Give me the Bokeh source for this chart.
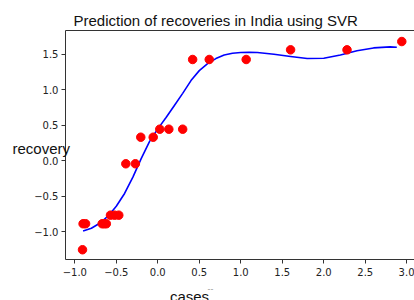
from bokeh.plotting import figure
from bokeh.models import Range1d, FixedTicker, LinearAxis, Label
from bokeh.embed import file_html
from bokeh.resources import INLINE

# observed data (cases vs recovery, scaled)
cases = [-0.907, -0.90, -0.87, -0.67, -0.645, -0.62, -0.57, -0.52, -0.47, -0.385, -0.27,
         -0.205, -0.055, 0.024, 0.133, 0.30, 0.42, 0.62, 1.065, 1.60, 2.28, 2.94]
recovery = [-1.253, -0.887, -0.887, -0.887, -0.887, -0.887, -0.766, -0.766, -0.766, -0.042, -0.042,
            0.332, 0.332, 0.445, 0.445, 0.445, 1.427, 1.427, 1.427, 1.563, 1.563, 1.68]

# SVR prediction curve
svr_x = [-0.9, -0.8, -0.7, -0.6, -0.5, -0.4, -0.3, -0.2, -0.1, 0.0, 0.1, 0.2, 0.3, 0.4, 0.5,
         0.6, 0.7, 0.8, 0.9, 1.0, 1.1, 1.2, 1.4, 1.6, 1.8, 2.0, 2.2, 2.4, 2.6, 2.8, 2.88]
svr_y = [-0.99, -0.95, -0.88, -0.78, -0.64, -0.46, -0.23, 0.03, 0.27, 0.45, 0.61, 0.78, 0.95,
         1.13, 1.27, 1.37, 1.44, 1.49, 1.515, 1.525, 1.53, 1.525, 1.50, 1.47, 1.44, 1.445, 1.49,
         1.55, 1.59, 1.605, 1.60]

x_ticks = [-1.0, -0.5, 0.0, 0.5, 1.0, 1.5, 2.0, 2.5, 3.0]
y_ticks = [-1.0, -0.5, 0.0, 0.5, 1.0, 1.5]

title_text = "Prediction of recoveries in India using SVR"
x_label = "cases"
y_label = "recovery"

# axes box (data limits of the plotting area)
x_lo, x_hi = -1.112, 3.093
y_lo, y_hi = -1.39, 1.835


def lab(v):
    s = "%.1f" % v
    return s.replace("-", "\u2212")


p = figure(width=414, height=300, output_backend="svg", toolbar_location=None,
           x_range=Range1d(-1.895, 3.093), y_range=Range1d(-1.968, 2.258),
           min_border=0, x_axis_location=None, y_axis_location=None)
p.outline_line_color = None
p.xgrid.visible = False
p.ygrid.visible = False
p.background_fill_color = "white"
p.border_fill_color = "white"

xa = LinearAxis(ticker=FixedTicker(ticks=x_ticks), fixed_location=y_lo, bounds=(x_lo, x_hi),
                major_label_overrides={v: lab(v) for v in x_ticks})
ya = LinearAxis(ticker=FixedTicker(ticks=y_ticks), fixed_location=x_lo, bounds=(y_lo, y_hi),
                major_label_overrides={v: lab(v) for v in y_ticks})
top = LinearAxis(ticker=FixedTicker(ticks=[]), fixed_location=y_hi, bounds=(x_lo, x_hi),
                 major_label_text_font_size="0px")
for ax in (xa, ya):
    ax.major_tick_out = 4
    ax.major_tick_in = 0
    ax.minor_tick_out = 0
    ax.minor_tick_in = 0
    ax.major_label_text_font = "DejaVu Sans"
    ax.major_label_text_font_size = "10px"
    ax.major_label_text_color = "#222222"
    ax.axis_line_color = "#333333"
    ax.major_tick_line_color = "#333333"
xa.major_label_standoff = 5
ya.major_label_standoff = 3
top.axis_line_color = "#333333"
top.major_tick_out = 0
top.major_tick_in = 0
top.minor_tick_out = 0
top.minor_tick_in = 0
p.add_layout(xa, "below")
p.add_layout(ya, "left")
p.add_layout(top, "above")

p.line(svr_x, svr_y, line_color="#0000ff", line_width=1.6)
p.scatter(cases, recovery, size=8.5, fill_color="#ff0000", line_color="#ff0000")

p.add_layout(Label(x=73, x_units="screen", y=1.983, y_units="data", text=title_text,
                   text_font="Liberation Sans", text_font_size="15px", text_align="left",
                   text_baseline="alphabetic", text_color="#111111"))
p.add_layout(Label(x=12, x_units="screen", y=0.173, y_units="data", text=y_label,
                   text_font="Liberation Sans", text_font_size="15px", text_align="left",
                   text_baseline="alphabetic", text_color="#111111"))
p.add_layout(Label(x=189, x_units="screen", y=-1.911, y_units="data", text=x_label,
                   text_font="Liberation Sans", text_font_size="15px", text_align="center",
                   text_baseline="alphabetic", text_color="#111111"))
p.add_layout(Label(x=210, x_units="screen", y=-1.805, y_units="data", text="--",
                   text_font="DejaVu Sans", text_font_size="8px", text_align="center",
                   text_baseline="alphabetic", text_color="#999999"))

open("out.html", "w").write(file_html(p, INLINE))
